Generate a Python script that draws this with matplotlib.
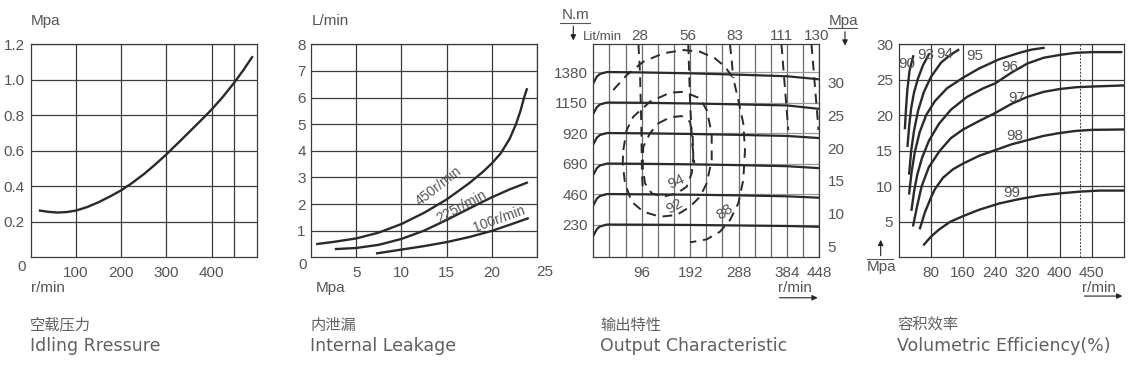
import matplotlib
matplotlib.use("Agg")
import matplotlib.pyplot as plt

plt.rcParams['font.family'] = ['Liberation Sans Narrow', 'Liberation Sans', 'DejaVu Sans']
plt.rcParams['font.size'] = 11

TXT = '#555555'
GRID = '#3c3c3c'
CURVE = '#2a2a2a'

# ---- panel 1: idling pressure
idle_speed = [21, 40, 60, 80, 100, 125, 150, 175, 200, 225, 250, 275, 300, 325, 350,
              375, 400, 425, 450, 470, 489]
idle_press = [0.263, 0.256, 0.252, 0.255, 0.263, 0.283, 0.310, 0.342, 0.377, 0.420, 0.468,
              0.522, 0.580, 0.642, 0.705, 0.768, 0.833, 0.905, 0.985, 1.055, 1.127]

# ---- panel 2: internal leakage
leak_labels = ['450r/min', '225r/min', '100r/min']
leak_p450 = [0.67, 2.5, 5.0, 7.5, 10.0, 12.5, 15.0, 17.5, 19.0, 20.0, 21.0, 22.0, 22.7, 23.2, 23.6, 23.9]
leak_q450 = [0.50, 0.58, 0.71, 0.93, 1.25, 1.67, 2.17, 2.78, 3.20, 3.52, 3.90, 4.45, 5.00, 5.50, 6.00, 6.31]
leak_p225 = [2.74, 5.0, 7.5, 10.0, 12.5, 15.0, 17.5, 20.0, 22.0, 23.9]
leak_q225 = [0.31, 0.35, 0.47, 0.69, 1.00, 1.40, 1.83, 2.25, 2.55, 2.80]
leak_p100 = [7.3, 10.0, 12.5, 15.0, 17.5, 20.0, 22.0, 24.0]
leak_q100 = [0.15, 0.29, 0.42, 0.57, 0.76, 0.99, 1.22, 1.46]

# ---- panel 3: output characteristic
torque_levels = [230, 460, 690, 920, 1150, 1380]
out_speed = [0, 7, 13, 27, 96, 192, 288, 384, 448]
out_torque = [
    [145, 195, 215, 230, 229, 227, 223, 219, 213],
    [375, 425, 445, 460, 458, 455, 450, 443, 432],
    [605, 655, 675, 690, 688, 684, 678, 670, 655],
    [835, 885, 905, 920, 918, 913, 906, 898, 882],
    [1065, 1115, 1135, 1150, 1148, 1143, 1136, 1128, 1102],
    [1295, 1345, 1365, 1380, 1377, 1370, 1360, 1348, 1325],
]
speed_ticks = [96, 192, 288, 384, 448]
flow_labels = ['28', '56', '83', '111', '130']
flow_pos = [93, 188, 281, 374, 443]
mpa_ticks = [5, 10, 15, 20, 25, 30]
flow28_x = [89.5, 92.6, 95.1, 96.5, 97.9]
flow28_y = [1589, 1370, 993, 616, 515]
flow56_x = [188.3, 191.7, 195.6, 200.2]
flow56_y = [1589, 1169, 867, 692]
flow83_x = [270.9, 274.3, 277.5]
flow83_y = [1589, 1470, 1333]
flow111_x = [373.0, 386.5]
flow111_y = [1589, 943]
flow130_x = [432.5, 446.5]
flow130_y = [1589, 943]
eff88_x = [39.6, 66.2, 99.1, 138.8, 178.4, 211.5, 241.2, 261.1, 277.5, 287.4, 297.3, 300.7,
           297.3, 287.4, 271.0, 251.1, 224.8, 198.2, 191.7]
eff88_y = [1244, 1357, 1458, 1521, 1546, 1533, 1483, 1420, 1333, 1169, 993, 792,
           566, 390, 264, 176, 118, 100, 96]
eff92_x = [59.5, 66.2, 79.3, 112.4, 152.0, 178.4, 211.5, 224.8, 234.7, 234.7, 224.8, 211.5,
           191.7, 165.3, 132.2, 99.1, 76.1, 62.8, 58.3, 59.5]
eff92_y = [792, 943, 1043, 1156, 1224, 1231, 1182, 1093, 918, 716, 541, 440,
           364, 302, 289, 327, 402, 541, 692, 792]
eff94_x = [128.8, 152.0, 175.2, 191.7, 197.0, 198.2, 195.1, 185.1, 165.3, 138.8, 115.8,
           102.5, 97.9, 99.1, 112.4, 128.8]
eff94_y = [993, 1038, 1048, 1005, 892, 741, 616, 515, 465, 440, 465,
           541, 666, 817, 918, 993]
eff_labels = ['94', '92', '88']
eff_lab_x = [165, 162, 261]
eff_lab_y = [553, 364, 327]

# ---- panel 4: volumetric efficiency
ve_labels = ['90', '93', '94', '95', '96', '97', '98', '99']
ve_speed = [
    [15.5, 18, 21.5, 27, 36],
    [22, 26, 31, 38, 48, 60, 75],
    [26, 31, 38, 48, 62, 80, 105, 128, 148],
    [26, 32, 40, 52, 68, 90, 120, 160, 200, 250, 300, 330, 360],
    [32, 38, 46, 58, 75, 100, 130, 170, 210, 240, 280, 320, 360, 400, 440, 480, 553],
    [36, 45, 57, 75, 102, 130, 160, 200, 239, 280, 320, 360, 400, 440, 480, 557],
    [53, 65, 80, 90, 110, 135, 160, 200, 230, 280, 320, 360, 400, 440, 480, 557],
    [63, 80, 100, 128, 160, 200, 251, 300, 350, 400, 450, 500, 557],
]
ve_press = [
    [18.2, 20.8, 23.6, 26.3, 28.3],
    [15.7, 18.5, 21.0, 23.2, 25.2, 27.0, 28.6],
    [11.8, 15.0, 17.8, 20.6, 23.2, 25.4, 27.4, 28.5, 29.2],
    [9.0, 12.0, 14.8, 17.6, 20.0, 22.0, 23.8, 25.3, 26.6, 27.9, 28.8, 29.25, 29.5],
    [6.7, 9.2, 11.6, 14.0, 16.4, 18.8, 20.8, 22.6, 23.8, 24.5, 26.0, 27.3, 28.1, 28.5, 28.8, 28.9, 28.9],
    [4.5, 7.0, 10.0, 12.7, 15.0, 16.8, 18.0, 19.2, 20.3, 21.6, 22.6, 23.3, 23.7, 23.95, 24.05, 24.2],
    [4.1, 6.3, 8.4, 9.6, 11.2, 12.4, 13.2, 14.3, 14.9, 15.9, 16.5, 17.1, 17.5, 17.8, 17.95, 18.0],
    [1.8, 2.9, 3.9, 5.0, 5.8, 6.7, 7.6, 8.2, 8.7, 9.0, 9.25, 9.4, 9.4],
]
ve_lab_x = [20, 67, 115, 189, 276, 293, 288, 280]
ve_lab_y = [27.2, 28.5, 28.7, 28.3, 26.8, 22.4, 17.1, 9.1]
ve_xticks = [80, 160, 240, 320, 400, 480]
ve_xlabels = ['80', '160', '240', '320', '400', '450']

captions_cn = ['空载压力', '内泄漏', '输出特性', '容积效率']
captions_en = ['Idling Rressure', 'Internal Leakage', 'Output Characteristic', 'Volumetric Efficiency(%)']

W, H = 1131, 387
fig = plt.figure(figsize=(W / 100, H / 100), dpi=100)


def axbox(left, right, top=44.3, bottom=257.3):
    return [left / W, 1 - bottom / H, (right - left) / W, (bottom - top) / H]


def style(ax, gcolor=GRID):
    for s in ax.spines.values():
        s.set_color(GRID)
        s.set_linewidth(0.9)
    ax.tick_params(length=0, labelcolor=TXT, labelsize=11)
    ax.tick_params(axis='x', pad=6)
    ax.tick_params(axis='y', pad=4)
    ax.grid(True, which='both', color=gcolor, lw=0.9)
    ax.set_axisbelow(True)


# panel 1
ax1 = fig.add_axes(axbox(30.5, 257))
ax1.set_xlim(0, 500)
ax1.set_ylim(0, 1.2)
ax1.set_xticks([100, 200, 300, 400])
ax1.set_xticks([450], minor=True)
ax1.set_yticks([0.2, 0.4, 0.6, 0.8, 1.0, 1.2])
ax1.set_yticklabels(['0.2', '0.4', '0.6', '0.8', '1.0', '1.2'])
style(ax1)
ax1.tick_params(which='minor', length=0)
ax1.plot(idle_speed, idle_press, color=CURVE, lw=1.7)
ax1.text(-0.02, -0.045, '0', transform=ax1.transAxes, ha='right', va='center', color=TXT, fontsize=11)
ax1.text(0.0, 1.11, 'Mpa', transform=ax1.transAxes, ha='left', va='center', color=TXT, fontsize=11)
ax1.text(0.0, -0.146, 'r/min', transform=ax1.transAxes, ha='left', va='center', color=TXT, fontsize=11)

# panel 2
ax2 = fig.add_axes(axbox(311.3, 536.7))
ax2.set_xlim(0, 25)
ax2.set_ylim(0, 8)
ax2.set_xticks([5, 10, 15, 20])
ax2.set_xticks([25], minor=True)
ax2.set_yticks(range(1, 9))
style(ax2)
ax2.tick_params(which='minor', length=0)
for px, qy in [(leak_p450, leak_q450), (leak_p225, leak_q225), (leak_p100, leak_q100)]:
    ax2.plot(px, qy, color=CURVE, lw=1.7)
for lab, lx, ly, rot in zip(leak_labels, [14.1, 16.7, 20.8], [2.68, 1.9, 1.45], [38, 28, 20]):
    ax2.text(lx, ly, lab, rotation=rot, ha='center', va='center', color=TXT, fontsize=10,
             rotation_mode='anchor')
ax2.text(-0.02, -0.038, '0', transform=ax2.transAxes, ha='right', va='center', color=TXT, fontsize=11)
ax2.text(1.035, -0.07, '25', transform=ax2.transAxes, ha='center', va='center', color=TXT, fontsize=11)
ax2.text(0.0, 1.11, 'L/min', transform=ax2.transAxes, ha='left', va='center', color=TXT, fontsize=11)
ax2.text(0.02, -0.146, 'Mpa', transform=ax2.transAxes, ha='left', va='center', color=TXT, fontsize=11)

# panel 3
ax3 = fig.add_axes(axbox(593.3, 819.3))
ax3.set_xlim(0, 448)
ax3.set_ylim(-17, 1589)
ax3.set_xticks(speed_ticks)
ax3.set_xticks(range(32, 448, 32), minor=True)
ax3.set_yticks(torque_levels)
style(ax3, gcolor='#6a6a6a')
ax3.grid(True, axis='y', color='#9a9a9a', lw=0.9)
ax3.tick_params(which='minor', length=0)
for tq in out_torque:
    ax3.plot(out_speed, tq, color=CURVE, lw=1.6)
dash = dict(color=CURVE, lw=1.4, ls=(0, (5, 3.5)))
for fx, fy in [(flow28_x, flow28_y), (flow56_x, flow56_y), (flow83_x, flow83_y),
               (flow111_x, flow111_y), (flow130_x, flow130_y)]:
    ax3.plot(fx, fy, **dash)
for ex, ey in [(eff88_x, eff88_y), (eff92_x, eff92_y), (eff94_x, eff94_y)]:
    ax3.plot(ex, ey, **dash)
for lab, lx, ly, rot in zip(eff_labels, eff_lab_x, eff_lab_y, [25, 30, 35]):
    ax3.text(lx, ly, lab, rotation=rot, ha='center', va='center', color=TXT, fontsize=11)
top = ax3.secondary_xaxis('top')
top.set_xticks(flow_pos)
top.set_xticklabels(flow_labels)
top.tick_params(length=0, labelcolor=TXT, labelsize=11, pad=1)
for s in top.spines.values():
    s.set_visible(False)
ax3r = ax3.twinx()
ax3r.set_ylim(3.28, 35.9)
ax3r.set_yticks(mpa_ticks)
ax3r.tick_params(length=0, labelcolor=TXT, labelsize=11, pad=6)
for s in ax3r.spines.values():
    s.set_visible(False)
ax3.text(-0.077, 1.138, 'N.m', transform=ax3.transAxes, ha='center', va='center', color=TXT, fontsize=11)
ax3.plot([-0.147, -0.015], [1.101, 1.101], transform=ax3.transAxes, color=TXT, lw=0.8, clip_on=False)
ax3.annotate('', xy=(-0.0885, 1.005), xytext=(-0.0885, 1.099), xycoords='axes fraction',
             arrowprops=dict(arrowstyle='-|>', color='#222222', lw=0.8, mutation_scale=8))
ax3.text(-0.045, 1.034, 'Lit/min', transform=ax3.transAxes, ha='left', va='center', color=TXT, fontsize=9.5)
ax3.text(1.109, 1.109, 'Mpa', transform=ax3.transAxes, ha='center', va='center', color=TXT, fontsize=11)
ax3.plot([1.0385, 1.1667], [1.075, 1.075], transform=ax3.transAxes, color=TXT, lw=0.8, clip_on=False)
ax3.annotate('', xy=(1.1137, 0.981), xytext=(1.1137, 1.072), xycoords='axes fraction',
             arrowprops=dict(arrowstyle='-|>', color='#222222', lw=0.8, mutation_scale=8))
ax3.text(0.892, -0.144, 'r/min', transform=ax3.transAxes, ha='center', va='center', color=TXT, fontsize=11)
ax3.annotate('', xy=(1.005, -0.19), xytext=(0.8115, -0.19), xycoords='axes fraction',
             arrowprops=dict(arrowstyle='-|>', color='#222222', lw=0.8, mutation_scale=8))

# panel 4
ax4 = fig.add_axes(axbox(898.7, 1124))
ax4.set_xlim(0, 560)
ax4.set_ylim(0, 30)
ax4.set_xticks(ve_xticks)
ax4.set_xticklabels(ve_xlabels)
ax4.set_yticks([5, 10, 15, 20, 25, 30])
style(ax4)
ax4.axvline(450, color=GRID, lw=0.7, ls=(0, (2, 1.5)))
for sx, py in zip(ve_speed, ve_press):
    ax4.plot(sx, py, color=CURVE, lw=1.7)
for lab, lx, ly in zip(ve_labels, ve_lab_x, ve_lab_y):
    ax4.text(lx, ly, lab, ha='center', va='center', color=TXT, fontsize=11)
ax4.text(-0.074, -0.0455, 'Mpa', transform=ax4.transAxes, ha='center', va='center', color=TXT, fontsize=11)
ax4.plot([-0.142, -0.024], [-0.008, -0.008], transform=ax4.transAxes, color=TXT, lw=0.8, clip_on=False)
ax4.annotate('', xy=(-0.08, 0.095), xytext=(-0.08, -0.006), xycoords='axes fraction',
             arrowprops=dict(arrowstyle='-|>', color='#222222', lw=0.8, mutation_scale=8))
ax4.text(0.889, -0.1455, 'r/min', transform=ax4.transAxes, ha='center', va='center', color=TXT, fontsize=11)
ax4.annotate('', xy=(1.005, -0.182), xytext=(0.812, -0.182), xycoords='axes fraction',
             arrowprops=dict(arrowstyle='-|>', color='#222222', lw=0.8, mutation_scale=8))

# captions
for cn, en, x in zip(captions_cn, captions_en, [30, 310, 600, 897]):
    fig.text(x / W, 1 - 325 / H, cn, ha='left', va='center', color='#606060', fontsize=11,
             family=['Noto Sans CJK SC', 'DejaVu Sans'])
    fig.text(x / W, 1 - 346 / H, en, ha='left', va='center', color='#606060', fontsize=12.5,
             family=['DejaVu Sans'])

fig.savefig('out.png', dpi=100)
